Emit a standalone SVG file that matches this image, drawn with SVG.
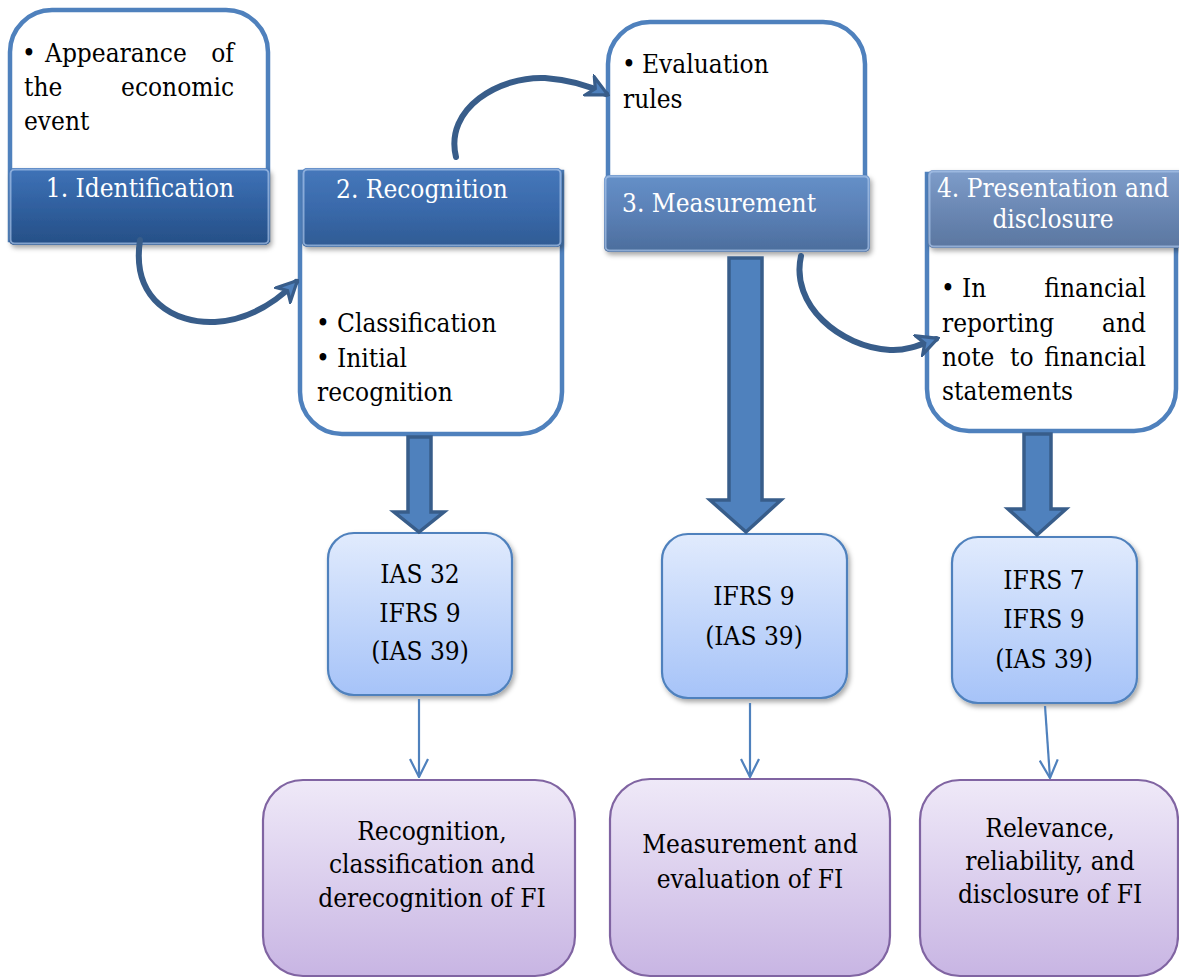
<svg xmlns="http://www.w3.org/2000/svg" width="1179" height="978" viewBox="0 0 1179 978">
  <style>
    text { font-family: 'DejaVu Serif Condensed', 'DejaVu Serif', serif; font-stretch: condensed; font-size: 26px; }
    .dark { fill: #000000; }
    .head { fill: #ffffff; }
    .mid { text-anchor: middle; }
    .end { text-anchor: end; }
    .frame { fill: #ffffff; stroke: #4f81bd; stroke-width: 4.5; }
    .bevel { fill: none; stroke: #a9c4ea; stroke-width: 2; stroke-opacity: 0.7; }
    .std { stroke: #4f81bd; stroke-width: 2.2; }
    .res { stroke: #8064a2; stroke-width: 2.2; }
    .block { fill: #4f81bd; stroke: #385d8a; stroke-width: 3.5; stroke-linejoin: miter; }
    .curve { fill: none; stroke: #385d8a; stroke-width: 6; stroke-linecap: round; }
    .thin { fill: none; stroke: #4f81bd; stroke-width: 2.2; }
  </style>
  <defs>
    <linearGradient id="gH1" x1="0" y1="0" x2="0" y2="1">
      <stop offset="0" stop-color="#3f73b8"/>
      <stop offset="0.5" stop-color="#30609f"/>
      <stop offset="1" stop-color="#264f86"/>
    </linearGradient>
    <linearGradient id="gH2" x1="0" y1="0" x2="0" y2="1">
      <stop offset="0" stop-color="#4678bb"/>
      <stop offset="0.5" stop-color="#3a6aab"/>
      <stop offset="1" stop-color="#2f5b94"/>
    </linearGradient>
    <linearGradient id="gH3" x1="0" y1="0" x2="0" y2="1">
      <stop offset="0" stop-color="#6590c8"/>
      <stop offset="0.5" stop-color="#5a80b6"/>
      <stop offset="1" stop-color="#4c6d9c"/>
    </linearGradient>
    <linearGradient id="gH4" x1="0" y1="0" x2="0" y2="1">
      <stop offset="0" stop-color="#7e9dca"/>
      <stop offset="0.5" stop-color="#6b88b4"/>
      <stop offset="1" stop-color="#5a76a0"/>
    </linearGradient>
    <linearGradient id="gStd" x1="0" y1="0" x2="0" y2="1">
      <stop offset="0" stop-color="#e1ebfd"/>
      <stop offset="1" stop-color="#a6c3f8"/>
    </linearGradient>
    <linearGradient id="gRes" x1="0" y1="0" x2="0" y2="1">
      <stop offset="0" stop-color="#efe9f8"/>
      <stop offset="1" stop-color="#c8b5e3"/>
    </linearGradient>
    <filter id="shadow" x="-10%" y="-10%" width="125%" height="130%">
      <feDropShadow dx="2" dy="3" stdDeviation="2.5" flood-color="#000000" flood-opacity="0.35"/>
    </filter>
    <marker id="bend" viewBox="0 0 12 12" refX="10" refY="6" markerWidth="24" markerHeight="24" markerUnits="userSpaceOnUse" orient="auto">
      <path d="M1,1 L11,6 L1,11 L4,6 Z" fill="#4f81bd" stroke="#385d8a" stroke-width="1.6" stroke-linejoin="miter"/>
    </marker>
    <marker id="vee" viewBox="0 0 20 20" refX="19" refY="10" markerWidth="20" markerHeight="20" markerUnits="userSpaceOnUse" orient="auto">
      <path d="M1,1 L19,10 L1,19" fill="none" stroke="#4f81bd" stroke-width="2.2"/>
    </marker>
  </defs>

  <!-- Step 1: identification -->
  <g id="step1">
    <path class="frame" d="M10,240 V52 A42,42 0 0 1 52,10 H226 A42,42 0 0 1 268,52 V240 Z"/>
    <text class="dark" x="22" y="62">•</text>
    <text class="dark" x="45" y="62">Appearance</text>
    <text class="dark end" x="234" y="62">of</text>
    <text class="dark" x="24" y="96">the</text>
    <text class="dark end" x="234" y="96">economic</text>
    <text class="dark" x="24" y="130">event</text>
    <g filter="url(#shadow)">
      <rect x="9" y="168" width="261" height="77" rx="5" fill="url(#gH1)"/>
    </g>
    <rect class="bevel" x="10.5" y="169.5" width="258" height="74" rx="4"/>
    <text class="head mid" x="140" y="197">1. Identification</text>
  </g>

  <!-- Step 2: recognition -->
  <g id="step2">
    <path class="frame" d="M300,172 V392 A42,42 0 0 0 342,434 H520 A42,42 0 0 0 562,392 V172 Z"/>
    <g filter="url(#shadow)">
      <rect x="302" y="168" width="260" height="79" rx="5" fill="url(#gH2)"/>
    </g>
    <rect class="bevel" x="303.5" y="169.5" width="257" height="76" rx="4"/>
    <text class="head mid" x="422" y="198">2. Recognition</text>
    <text class="dark" x="316" y="332">•</text>
    <text class="dark" x="337" y="332">Classification</text>
    <text class="dark" x="316" y="367">•</text>
    <text class="dark" x="337" y="367">Initial</text>
    <text class="dark" x="317" y="401">recognition</text>
  </g>

  <!-- Step 3: measurement -->
  <g id="step3">
    <path class="frame" d="M608,240 V64 A42,42 0 0 1 650,22 H823 A42,42 0 0 1 865,64 V240 Z"/>
    <text class="dark" x="622" y="73">•</text>
    <text class="dark" x="642" y="73">Evaluation</text>
    <text class="dark" x="623" y="108">rules</text>
    <g filter="url(#shadow)">
      <rect x="604" y="175" width="266" height="77" rx="5" fill="url(#gH3)"/>
    </g>
    <rect class="bevel" x="605.5" y="176.5" width="263" height="74" rx="4"/>
    <text class="head" x="622" y="212">3. Measurement</text>
  </g>

  <!-- Step 4: presentation and disclosure -->
  <g id="step4">
    <path class="frame" d="M927,174 V389 A42,42 0 0 0 969,431 H1134 A42,42 0 0 0 1176,389 V174 Z"/>
    <g filter="url(#shadow)">
      <rect x="928" y="170" width="256" height="78" rx="5" fill="url(#gH4)"/>
    </g>
    <rect class="bevel" x="929.5" y="171.5" width="253" height="75" rx="4"/>
    <text class="head mid" x="1053" y="197">4. Presentation and</text>
    <text class="head mid" x="1053" y="228">disclosure</text>
    <text class="dark" x="941" y="297">•</text>
    <text class="dark" x="962" y="297">In</text>
    <text class="dark end" x="1146" y="297">financial</text>
    <text class="dark" x="942" y="332">reporting</text>
    <text class="dark end" x="1146" y="332">and</text>
    <text class="dark" x="942" y="366">note</text>
    <text class="dark" x="1010" y="366">to</text>
    <text class="dark end" x="1146" y="366">financial</text>
    <text class="dark" x="942" y="400">statements</text>
  </g>

  <!-- Standards boxes -->
  <g id="std1">
    <rect class="std" x="328" y="533" width="184" height="162" rx="26" fill="url(#gStd)" filter="url(#shadow)"/>
    <text class="dark mid" x="420" y="583">IAS 32</text>
    <text class="dark mid" x="420" y="622">IFRS 9</text>
    <text class="dark mid" x="420" y="660">(IAS 39)</text>
  </g>
  <g id="std2">
    <rect class="std" x="662" y="534" width="185" height="164" rx="26" fill="url(#gStd)" filter="url(#shadow)"/>
    <text class="dark mid" x="754" y="605">IFRS 9</text>
    <text class="dark mid" x="754" y="645">(IAS 39)</text>
  </g>
  <g id="std3">
    <rect class="std" x="952" y="537" width="185" height="166" rx="26" fill="url(#gStd)" filter="url(#shadow)"/>
    <text class="dark mid" x="1044" y="589">IFRS 7</text>
    <text class="dark mid" x="1044" y="628">IFRS 9</text>
    <text class="dark mid" x="1044" y="668">(IAS 39)</text>
  </g>

  <!-- Result boxes -->
  <g id="res1">
    <rect class="res" x="263" y="780" width="312" height="196" rx="40" fill="url(#gRes)"/>
    <text class="dark mid" x="432" y="840">Recognition,</text>
    <text class="dark mid" x="432" y="873">classification and</text>
    <text class="dark mid" x="432" y="907">derecognition of FI</text>
  </g>
  <g id="res2">
    <rect class="res" x="610" y="779" width="280" height="197" rx="40" fill="url(#gRes)"/>
    <text class="dark mid" x="750" y="853">Measurement and</text>
    <text class="dark mid" x="750" y="888">evaluation of FI</text>
  </g>
  <g id="res3">
    <rect class="res" x="920" y="780" width="258" height="196" rx="40" fill="url(#gRes)"/>
    <text class="dark mid" x="1050" y="837">Relevance,</text>
    <text class="dark mid" x="1050" y="870">reliability, and</text>
    <text class="dark mid" x="1050" y="903">disclosure of FI</text>
  </g>

  <!-- Connectors -->
  <g id="connectors">
    <!-- curved step-to-step arrows -->
    <path class="curve" d="M140,240 C131,300 175,324 215,322 C250,320 276,302 296,282" marker-end="url(#bend)"/>
    <path class="curve" d="M456,157 C444,108 500,76 545,78 C572,80 590,86 606,94" marker-end="url(#bend)"/>
    <path class="curve" d="M801,256 C790,305 840,347 890,350 C906,351 920,345 936,339" marker-end="url(#bend)"/>

    <!-- block arrows from steps to standards -->
    <polygon class="block" points="408,437 431,437 431,512 444,512 419,532 394,512 408,512"/>
    <polygon class="block" points="729,258 762,258 762,500 781,500 746,532 710,500 729,500"/>
    <polygon class="block" points="1024,434 1051,434 1051,509 1066,509 1037,535 1008,509 1024,509"/>

    <!-- thin arrows from standards to results -->
    <line class="thin" x1="419" y1="699" x2="419" y2="777" marker-end="url(#vee)"/>
    <line class="thin" x1="750" y1="703" x2="750" y2="777" marker-end="url(#vee)"/>
    <line class="thin" x1="1045" y1="706" x2="1050" y2="778" marker-end="url(#vee)"/>
  </g>
</svg>
